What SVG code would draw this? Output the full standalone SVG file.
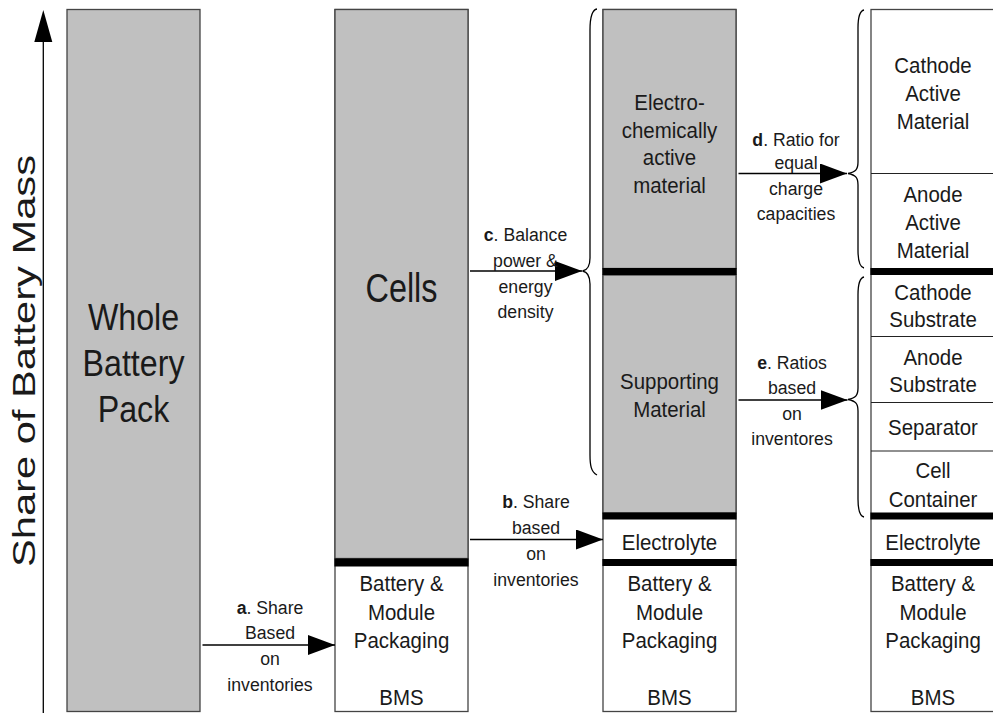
<svg xmlns="http://www.w3.org/2000/svg" width="993" height="713" viewBox="0 0 993 713">
  <style>
    .col { fill: #ffffff; stroke: #444444; stroke-width: 1.3; }
    .grey { fill: #c0c0c0; stroke: #444444; stroke-width: 1.3; }
    .bar { fill: #000000; }
    .thin { stroke: #222222; stroke-width: 1.2; }
    text { font-family: "Liberation Sans", Arial, sans-serif; fill: #1a1a1a; text-anchor: middle; }
    .box { font-size: 22px; }
    .lbl { font-size: 19px; }
    .big { font-size: 37px; }
    .conn { stroke: #000000; stroke-width: 1.3; fill: none; }
    .brace { stroke: #000000; stroke-width: 1.3; fill: none; }
  </style>
  <defs>
    <marker id="head" markerUnits="userSpaceOnUse" markerWidth="28" markerHeight="22" refX="27" refY="10" orient="auto">
      <path d="M0,0 L27,10 L0,20 Z" fill="#000000"/>
    </marker>
  </defs>

  <!-- vertical axis -->
  <g id="axis">
    <line x1="43.3" y1="40" x2="43.3" y2="713" stroke="#000000" stroke-width="1.3"/>
    <polygon points="43.3,10 34.3,42 52.3,42" fill="#000000"/>
    <text transform="translate(35,361) rotate(-90)" font-size="32" textLength="412" lengthAdjust="spacingAndGlyphs">Share of Battery Mass</text>
  </g>

  <!-- column 1: whole pack -->
  <g id="whole-pack">
    <rect class="grey" x="67" y="9.5" width="133" height="702"/>
    <g transform="translate(133.5 0) scale(0.87 1)">
      <text class="big" x="0" y="330">Whole</text>
      <text class="big" x="0" y="376">Battery</text>
      <text class="big" x="0" y="422">Pack</text>
    </g>
  </g>

  <!-- column 2: cells / packaging -->
  <g id="cells">
    <rect class="col" x="335" y="9.5" width="133" height="702"/>
    <rect class="grey" x="335" y="9.5" width="133" height="549"/>
    <g transform="translate(401.5 0) scale(0.79 1)">
      <text x="0" y="302" font-size="41">Cells</text>
    </g>
  </g>
  <g id="packaging-2">
    <rect class="bar" x="334.4" y="558.5" width="134.2" height="8"/>
    <g transform="translate(401.5 0) scale(0.93 1)">
      <text class="box" x="0" y="591">Battery &amp;</text>
      <text class="box" x="0" y="620">Module</text>
      <text class="box" x="0" y="648">Packaging</text>
      <text class="box" x="0" y="705">BMS</text>
    </g>
  </g>

  <!-- column 3 -->
  <g id="active-3">
    <rect class="col" x="603" y="9.5" width="133" height="702"/>
    <rect class="grey" x="603" y="9.5" width="133" height="259"/>
    <g transform="translate(669.5 0) scale(0.93 1)">
      <text class="box" x="0" y="110">Electro-</text>
      <text class="box" x="0" y="138">chemically</text>
      <text class="box" x="0" y="165">active</text>
      <text class="box" x="0" y="193">material</text>
    </g>
  </g>
  <g id="supporting-3">
    <rect class="grey" x="603" y="275" width="133" height="238"/>
    <rect class="bar" x="602.4" y="268" width="134.2" height="7"/>
    <g transform="translate(669.5 0) scale(0.93 1)">
      <text class="box" x="0" y="389">Supporting</text>
      <text class="box" x="0" y="417">Material</text>
    </g>
  </g>
  <g id="electrolyte-3">
    <rect class="bar" x="602.4" y="512.5" width="134.2" height="7"/>
    <g transform="translate(669.5 0) scale(0.93 1)">
      <text class="box" x="0" y="550">Electrolyte</text>
    </g>
  </g>
  <g id="packaging-3">
    <rect class="bar" x="602.4" y="559" width="134.2" height="7"/>
    <g transform="translate(669.5 0) scale(0.93 1)">
      <text class="box" x="0" y="591">Battery &amp;</text>
      <text class="box" x="0" y="620">Module</text>
      <text class="box" x="0" y="648">Packaging</text>
      <text class="box" x="0" y="705">BMS</text>
    </g>
  </g>

  <!-- column 4 -->
  <g id="column-4">
    <rect class="col" x="871" y="9.5" width="133" height="702"/>
  </g>
  <g id="cathode-active">
    <g transform="translate(933 0) scale(0.93 1)">
      <text class="box" x="0" y="73">Cathode</text>
      <text class="box" x="0" y="101">Active</text>
      <text class="box" x="0" y="129">Material</text>
    </g>
  </g>
  <g id="anode-active">
    <line class="thin" x1="871" y1="173.5" x2="1004" y2="173.5"/>
    <g transform="translate(933 0) scale(0.93 1)">
      <text class="box" x="0" y="202">Anode</text>
      <text class="box" x="0" y="230">Active</text>
      <text class="box" x="0" y="258">Material</text>
    </g>
  </g>
  <g id="cathode-substrate">
    <rect class="bar" x="870.4" y="268" width="134" height="7"/>
    <g transform="translate(933 0) scale(0.93 1)">
      <text class="box" x="0" y="300">Cathode</text>
      <text class="box" x="0" y="327">Substrate</text>
    </g>
  </g>
  <g id="anode-substrate">
    <line class="thin" x1="871" y1="336.5" x2="1004" y2="336.5"/>
    <g transform="translate(933 0) scale(0.93 1)">
      <text class="box" x="0" y="365">Anode</text>
      <text class="box" x="0" y="392">Substrate</text>
    </g>
  </g>
  <g id="separator">
    <line class="thin" x1="871" y1="402.5" x2="1004" y2="402.5"/>
    <g transform="translate(933 0) scale(0.93 1)">
      <text class="box" x="0" y="435">Separator</text>
    </g>
  </g>
  <g id="cell-container">
    <line class="thin" x1="871" y1="451" x2="1004" y2="451"/>
    <g transform="translate(933 0) scale(0.93 1)">
      <text class="box" x="0" y="478">Cell</text>
      <text class="box" x="0" y="507">Container</text>
    </g>
  </g>
  <g id="electrolyte-4">
    <rect class="bar" x="870.4" y="512.5" width="134" height="7"/>
    <g transform="translate(933 0) scale(0.93 1)">
      <text class="box" x="0" y="550">Electrolyte</text>
    </g>
  </g>
  <g id="packaging-4">
    <rect class="bar" x="870.4" y="559" width="134" height="7"/>
    <g transform="translate(933 0) scale(0.93 1)">
      <text class="box" x="0" y="591">Battery &amp;</text>
      <text class="box" x="0" y="620">Module</text>
      <text class="box" x="0" y="648">Packaging</text>
      <text class="box" x="0" y="705">BMS</text>
    </g>
  </g>

  <!-- connectors: arrows, braces and their labels -->
  <g id="connectors">
    <line class="conn" x1="202.5" y1="645" x2="335" y2="645" marker-end="url(#head)"/>
    <line class="conn" x1="470" y1="539.5" x2="603" y2="539.5" marker-end="url(#head)"/>
    <line class="conn" x1="470" y1="271" x2="582" y2="271" marker-end="url(#head)"/>
    <line class="conn" x1="738.5" y1="173.5" x2="847" y2="173.5" marker-end="url(#head)"/>
    <line class="conn" x1="738.5" y1="400" x2="847.5" y2="400" marker-end="url(#head)"/>

    <path class="brace" d="M597,9 C591,10 590,20 590,30 L590,258 C590,266 588,270 582.5,271 C588,272 590,276 590,284 L590,455 C590,465 591,472 597,475"/>
    <path class="brace" d="M864,10 C859,11 858,18 858,28 L858,162 C858,169 856,172 848,173.5 C856,175 858,178 858,185 L858,250 C858,260 859,267 864,268"/>
    <path class="brace" d="M864,277 C859,278 858,285 858,295 L858,388 C858,395 856,398 848,399.5 C856,401 858,404 858,411 L858,499 C858,509 859,516 864,517"/>

    <g transform="translate(270 0) scale(0.93 1)">
      <text class="lbl" x="0" y="614"><tspan font-weight="bold">a</tspan>. Share</text>
      <text class="lbl" x="0" y="639">Based</text>
      <text class="lbl" x="0" y="665">on</text>
      <text class="lbl" x="0" y="691">inventories</text>
    </g>
    <g transform="translate(536 0) scale(0.93 1)">
      <text class="lbl" x="0" y="508"><tspan font-weight="bold">b</tspan>. Share</text>
      <text class="lbl" x="0" y="534">based</text>
      <text class="lbl" x="0" y="560">on</text>
      <text class="lbl" x="0" y="586">inventories</text>
    </g>
    <g transform="translate(525.5 0) scale(0.93 1)">
      <text class="lbl" x="0" y="241"><tspan font-weight="bold">c</tspan>. Balance</text>
      <text class="lbl" x="0" y="267">power &amp;</text>
      <text class="lbl" x="0" y="293">energy</text>
      <text class="lbl" x="0" y="318">density</text>
    </g>
    <g transform="translate(796 0) scale(0.93 1)">
      <text class="lbl" x="0" y="146"><tspan font-weight="bold">d</tspan>. Ratio for</text>
      <text class="lbl" x="0" y="169">equal</text>
      <text class="lbl" x="0" y="195">charge</text>
      <text class="lbl" x="0" y="220">capacities</text>
    </g>
    <g transform="translate(792 0) scale(0.93 1)">
      <text class="lbl" x="0" y="369"><tspan font-weight="bold">e</tspan>. Ratios</text>
      <text class="lbl" x="0" y="394">based</text>
      <text class="lbl" x="0" y="420">on</text>
      <text class="lbl" x="0" y="445">inventores</text>
    </g>
  </g>
</svg>
